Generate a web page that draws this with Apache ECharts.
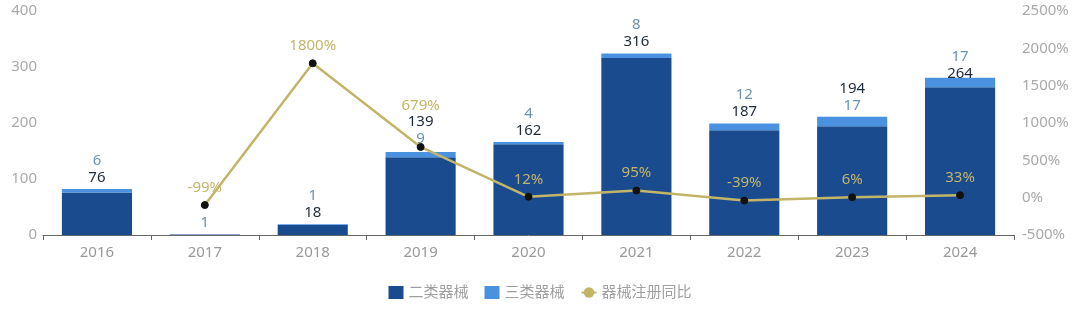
<!DOCTYPE html>
<html><head><meta charset="utf-8">
<script src="https://cdn.jsdelivr.net/npm/echarts@6/dist/echarts.min.js"></script>
<style>html,body{margin:0;padding:0;background:#fff}#c{width:1080px;height:322px}</style>
</head><body><div id="c"></div>
<script>
const categories = ['2016','2017','2018','2019','2020','2021','2022','2023','2024'];
const class2 = [76, 1, 18, 139, 162, 316, 187, 194, 264];
const class3 = [6, 0, 1, 9, 4, 8, 12, 17, 17];
const growth = [null, -99, 1800, 679, 12, 95, -39, 6, 33];
const leftTicks = {min: 0, max: 400, interval: 100};
const rightTicks = {min: -500, max: 2500, interval: 500};

const C2 = '#1b4b8f', C3 = '#4a92e0', CL = '#c2b568';
const FONT = "'Noto Sans','Noto Sans CJK SC',sans-serif";
const swapIdx = [3, 7];      // years where 二类 label sits above 三类 label
const lift = {8: -8, 3: 2};

const topLabels = categories.map((c, i) => {
  let txt;
  if (class3[i] === 0) txt = '{b|' + class2[i] + '}';
  else if (swapIdx.includes(i)) txt = '{a|' + class2[i] + '}\n{b|' + class3[i] + '}';
  else txt = '{b|' + class3[i] + '}\n{a|' + class2[i] + '}';
  return txt;
});

const chart = echarts.init(document.getElementById('c'));
chart.setOption({
  animation: false,
  textStyle: {fontFamily: FONT},
  grid: {left: 43, right: 66, top: 11, bottom: 87},
  legend: {
    bottom: 17, left: 'center', itemGap: 16, itemWidth: 15, itemHeight: 13,
    textStyle: {color: '#a0a0a0', fontSize: 15, fontFamily: FONT},
    data: [
      {name: '二类器械', icon: 'rect'},
      {name: '三类器械', icon: 'rect'},
      {name: '器械注册同比', itemStyle: {color: CL}}
    ]
  },
  xAxis: {
    type: 'category', data: categories,
    axisLine: {lineStyle: {color: '#666'}},
    axisTick: {show: true, length: 5, lineStyle: {color: '#666'}},
    axisLabel: {color: '#999', fontSize: 15, margin: 10}
  },
  yAxis: [
    {type: 'value', min: leftTicks.min, max: leftTicks.max, interval: leftTicks.interval,
     splitLine: {show: false}, axisLine: {show: false}, axisTick: {show: false},
     axisLabel: {color: '#aaa', fontSize: 15, margin: 6}},
    {type: 'value', min: rightTicks.min, max: rightTicks.max, interval: rightTicks.interval,
     splitLine: {show: false}, axisLine: {show: false}, axisTick: {show: false},
     axisLabel: {color: '#aaa', fontSize: 15, margin: 8, formatter: v => v + '%'}}
  ],
  series: [
    {name: '二类器械', type: 'bar', stack: 'a', barWidth: '65%', data: class2,
     itemStyle: {color: C2}},
    {name: '三类器械', type: 'bar', stack: 'a', data: class3.map((v, i) => ({
        value: v,
        label: {show: true, position: 'top', distance: 3, offset: [0, lift[i] ? -lift[i] : 0],
          formatter: topLabels[i],
          rich: {
            a: {color: '#1e2a3a', fontSize: 15, lineHeight: 17, fontFamily: FONT},
            b: {color: '#6a93b8', fontSize: 15, lineHeight: 17, fontFamily: FONT}
          }}
      })),
     itemStyle: {color: C3}},
    {name: '器械注册同比', type: 'line', yAxisIndex: 1, data: growth.map((v, i) => ({
        value: v,
        label: {show: v !== null, position: 'top', distance: i === 3 ? 30 : 6,
          color: CL, fontSize: 15, fontFamily: FONT, formatter: '{c}%'}
      })),
     symbol: 'circle', symbolSize: 7,
     lineStyle: {color: CL, width: 2.5},
     itemStyle: {color: '#111', borderColor: '#111'}}
  ]
});
</script></body></html>
